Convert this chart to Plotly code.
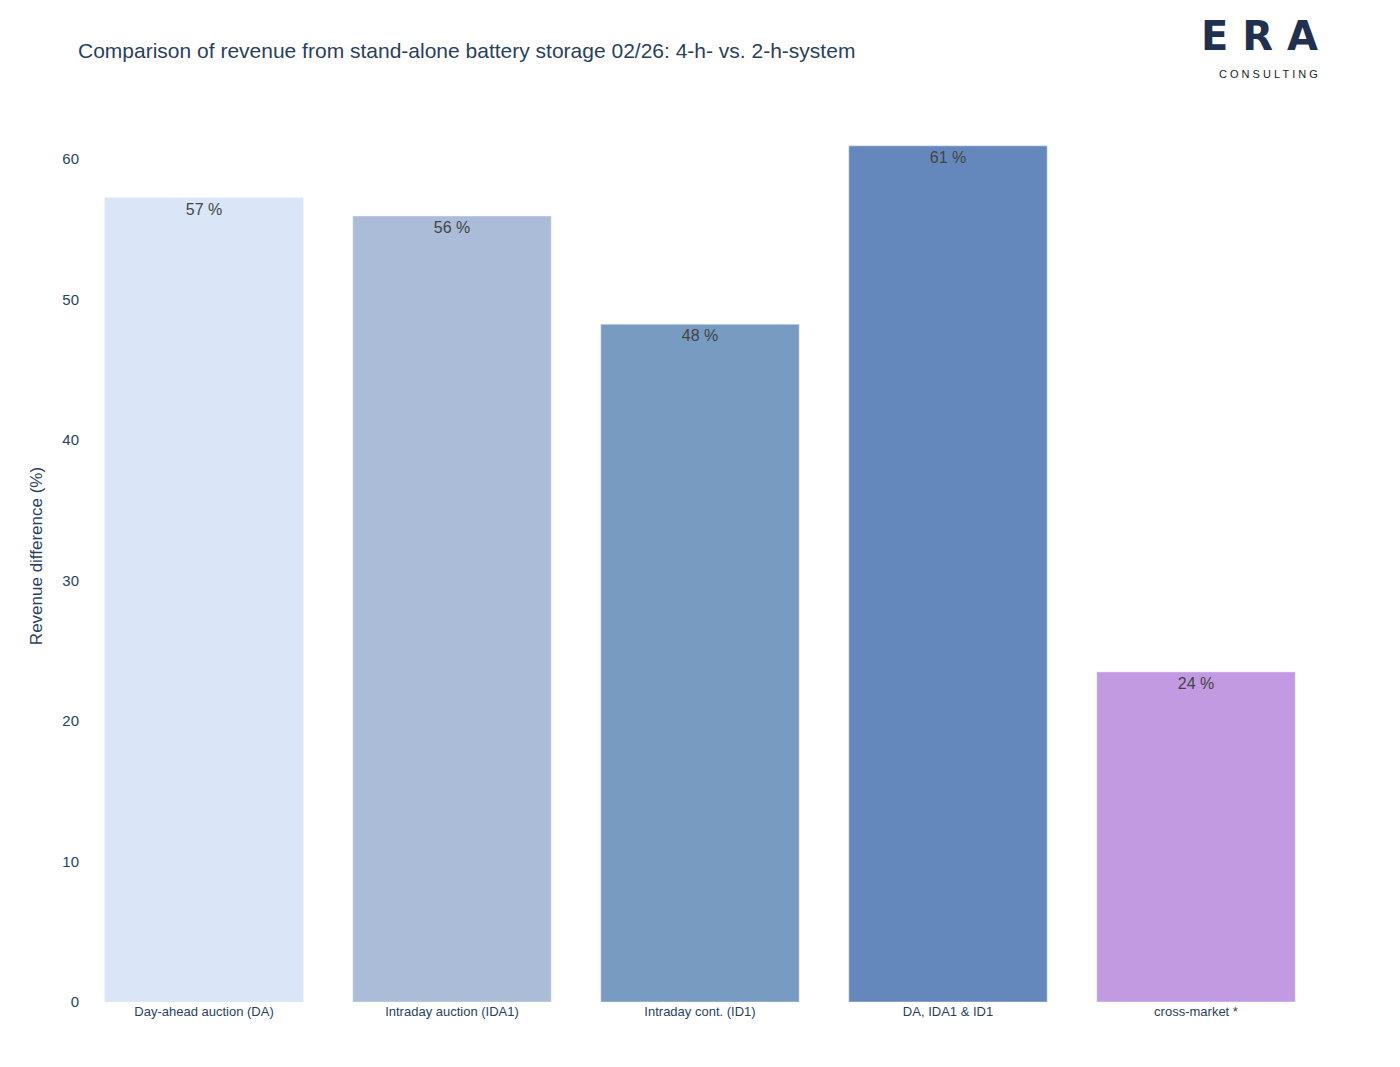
import plotly.graph_objects as go

categories = ["Day-ahead auction (DA)", "Intraday auction (IDA1)", "Intraday cont. (ID1)", "DA, IDA1 & ID1", "cross-market *"]
values = [57.25, 55.95, 48.25, 60.95, 23.5]
labels = ["57 %", "56 %", "48 %", "61 %", "24 %"]
colors = ["#dae6f7", "#aabcd8", "#789bc2", "#6588bc", "#c29ae2"]

fig = go.Figure(go.Bar(
    x=categories, y=values, text=labels, textposition="inside",
    insidetextanchor="end", marker_color=colors,
    textfont=dict(size=16, color="#444444"), width=0.8,
))
fig.update_layout(
    width=1400, height=1067, plot_bgcolor="white", paper_bgcolor="white",
    font=dict(family="Liberation Sans, Arial, sans-serif", color="#2a3f5f"),
    title=dict(text="Comparison of revenue from stand-alone battery storage 02/26: 4-h- vs. 2-h-system",
               x=0.05, xanchor="left", y=0.96, yanchor="middle", font=dict(size=21, color="#2a3f5f")),
    margin=dict(l=72, r=88, t=102, b=73),
    showlegend=False,
    yaxis=dict(title=dict(text="Revenue difference (%)", font=dict(size=17)),
               tickfont=dict(size=15), showgrid=False, zeroline=False, range=[0, 63.5]),
    xaxis=dict(tickfont=dict(size=13), showgrid=False),
)
fig.add_annotation(text="<b>E R A</b>", xref="paper", yref="paper", x=1.0, y=1.055,
                   xanchor="right", yanchor="bottom", showarrow=False,
                   font=dict(size=40, color="#1f3050", family="DejaVu Sans"))
fig.add_annotation(text="C O N S U L T I N G", xref="paper", yref="paper", x=1.0, y=1.04,
                   xanchor="right", yanchor="middle", showarrow=False,
                   font=dict(size=11, color="#222222"))
fig.write_html("out.html")
